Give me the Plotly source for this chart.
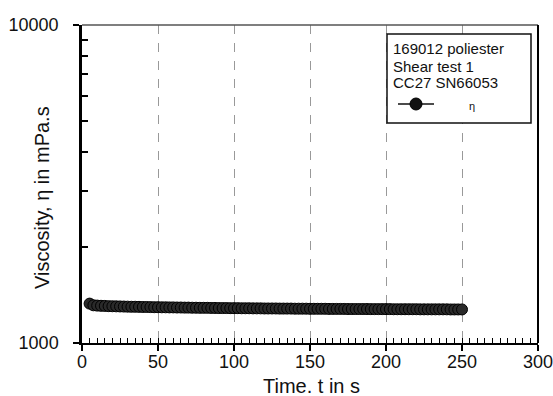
import plotly.graph_objects as go

time_s = [5, 7.5, 10, 12.5, 15, 17.5, 20, 22.5, 25, 27.5,
          30, 32.5, 35, 37.5, 40, 42.5, 45, 47.5, 50, 52.5,
          55, 57.5, 60, 62.5, 65, 67.5, 70, 72.5, 75, 77.5,
          80, 82.5, 85, 87.5, 90, 92.5, 95, 97.5, 100, 102.5,
          105, 107.5, 110, 112.5, 115, 117.5, 120, 122.5, 125, 127.5,
          130, 132.5, 135, 137.5, 140, 142.5, 145, 147.5, 150, 152.5,
          155, 157.5, 160, 162.5, 165, 167.5, 170, 172.5, 175, 177.5,
          180, 182.5, 185, 187.5, 190, 192.5, 195, 197.5, 200, 202.5,
          205, 207.5, 210, 212.5, 215, 217.5, 220, 222.5, 225, 227.5,
          230, 232.5, 235, 237.5, 240, 242.5, 245, 247.5, 250]
viscosity = [1330, 1314, 1311, 1309, 1308, 1306, 1305, 1304, 1303, 1302,
             1301, 1300, 1300, 1299, 1298, 1298, 1297, 1296, 1296, 1295,
             1295, 1294, 1294, 1293, 1293, 1292, 1292, 1291, 1291, 1290,
             1290, 1290, 1289, 1289, 1288, 1288, 1288, 1287, 1287, 1287,
             1286, 1286, 1286, 1285, 1285, 1285, 1284, 1284, 1284, 1284,
             1283, 1283, 1283, 1283, 1282, 1282, 1282, 1282, 1281, 1281,
             1281, 1281, 1281, 1280, 1280, 1280, 1280, 1280, 1279, 1279,
             1279, 1279, 1279, 1279, 1278, 1278, 1278, 1278, 1278, 1278,
             1277, 1277, 1277, 1277, 1277, 1277, 1277, 1276, 1276, 1276,
             1276, 1276, 1276, 1276, 1276, 1275, 1275, 1275, 1275]

x_ticks = [0, 50, 100, 150, 200, 250, 300]
x_minor = [v for v in range(0, 301, 5)]
y_ticks = [1000, 10000]
y_minor = [1000, 2000, 3000, 4000, 5000, 6000, 7000, 8000, 9000, 10000]
legend_lines = ["169012 poliester", "Shear test 1", "CC27 SN66053"]
series_name = "η"
x_title = "Time. t in s"
y_title = "Viscosity, η in mPa.s"

FONT = "Liberation Sans, Arial, sans-serif"
W, H = 553, 396
L, R, T, B = 82, 15, 25, 53
pw, ph = W - L - R, H - T - B

def px(x):
    return (x - L) / pw

def py(y):
    return (H - B - y) / ph

fig = go.Figure()
fig.add_trace(go.Scatter(
    x=time_s, y=viscosity, mode="lines+markers", name=series_name,
    line=dict(color="#111", width=1.5),
    marker=dict(size=11, color="#2a2a2a", line=dict(color="#000", width=1)),
    showlegend=False,
))
# invisible trace to activate overlay axes carrying the minor ticks
fig.add_trace(go.Scatter(x=[time_s[0]], y=[viscosity[0]], xaxis="x2", yaxis="y2",
                         mode="markers", marker=dict(opacity=0), showlegend=False,
                         hoverinfo="skip"))

shapes = [
    dict(type="line", xref="paper", yref="paper", x0=0, x1=1, y0=1, y1=1,
         line=dict(color="#555", width=1.5)),
    dict(type="line", xref="paper", yref="paper", x0=1, x1=1, y0=0, y1=1,
         line=dict(color="#000", width=2)),
    dict(type="rect", xref="paper", yref="paper", x0=px(387), x1=px(531),
         y0=py(123), y1=py(34), line=dict(color="#111", width=1.5),
         fillcolor="white"),
    dict(type="line", xref="paper", yref="paper", x0=px(398), x1=px(434),
         y0=py(104), y1=py(104), line=dict(color="#111", width=1.5)),
    dict(type="circle", xref="paper", yref="paper", x0=px(410), x1=px(422),
         y0=py(110), y1=py(98), line=dict(color="#000", width=1),
         fillcolor="#111"),
]

annotations = []
for i, line_txt in enumerate(legend_lines):
    annotations.append(dict(
        xref="paper", yref="paper", x=px(391), y=py(49 + 17 * i),
        xanchor="left", yanchor="middle", showarrow=False, text=line_txt,
        font=dict(family=FONT, size=15, color="#111")))
annotations += [
    dict(xref="paper", yref="paper", x=px(472), y=py(106), xanchor="center",
         yanchor="middle", showarrow=False, text=series_name,
         font=dict(family=FONT, size=11, color="#111")),
    dict(xref="paper", yref="paper", x=px(311), y=py(386), xanchor="center",
         yanchor="middle", showarrow=False, text=x_title,
         font=dict(family=FONT, size=20, color="#111")),
    dict(xref="paper", yref="paper", x=px(42), y=py(198), xanchor="center",
         yanchor="middle", showarrow=False, text=y_title, textangle=-90,
         font=dict(family=FONT, size=20, color="#111")),
]

fig.update_layout(
    width=W, height=H,
    margin=dict(l=L, r=R, t=T, b=B),
    paper_bgcolor="white", plot_bgcolor="white",
    font=dict(family=FONT, color="#111"),
    shapes=shapes, annotations=annotations,
    xaxis=dict(
        range=[0, 300], tickvals=x_ticks, ticks="outside", ticklen=6,
        tickwidth=1.5, tickcolor="#000", automargin=False,
        showline=True, linecolor="#000", linewidth=2,
        showgrid=True, gridcolor="#999", griddash="dash", gridwidth=1,
        zeroline=False, ticklabeloverflow="allow", ticklabelstandoff=-5,
        tickfont=dict(size=18, family=FONT, color="#111"),
    ),
    xaxis2=dict(
        range=[0, 300], overlaying="x", side="bottom", anchor="y",
        tickvals=x_minor, ticks="inside", ticklen=5, tickwidth=1.2,
        tickcolor="#000", showticklabels=False, showgrid=False,
        showline=False, zeroline=False, automargin=False,
    ),
    yaxis=dict(
        type="log", range=[3, 4], tickvals=y_ticks,
        ticktext=["1000", "10000"], ticks="outside", ticklen=6,
        tickwidth=1.5, tickcolor="#000", automargin=False,
        showline=True, linecolor="#000", linewidth=2.5,
        showgrid=False, zeroline=False, ticklabelstandoff=11,
        ticklabeloverflow="allow",
        tickfont=dict(size=18, family=FONT, color="#111"),
    ),
    yaxis2=dict(
        type="log", range=[3, 4], overlaying="y", side="left", anchor="x",
        tickvals=y_minor, ticks="inside", ticklen=6, tickwidth=1.5,
        tickcolor="#000", showticklabels=False, showgrid=False,
        showline=False, zeroline=False, automargin=False,
    ),
)

fig.write_html("out.html", config={"displayModeBar": False},
               post_script="document.body.style.margin='0';")
